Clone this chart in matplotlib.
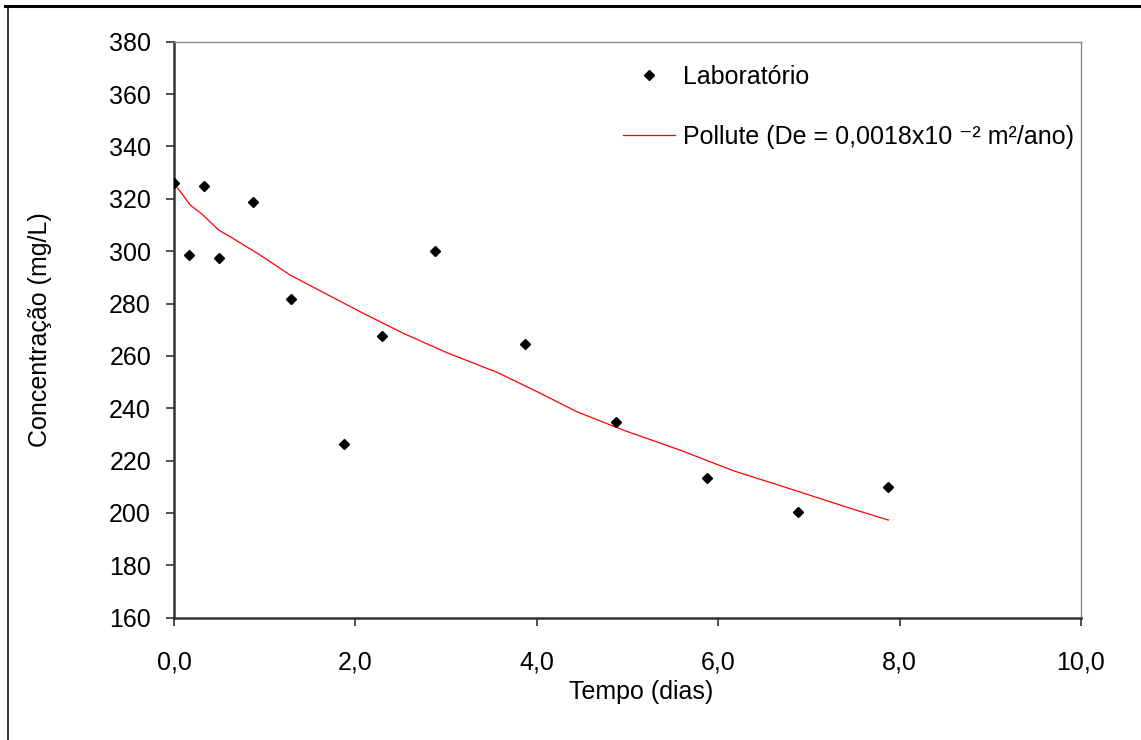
"""Concentração x tempo — ensaio de laboratório vs. ajuste Pollute."""
import matplotlib
matplotlib.use("Agg")
import matplotlib.pyplot as plt
from matplotlib.lines import Line2D
from matplotlib.ticker import FuncFormatter, MultipleLocator

# pontos de laboratório (dias, mg/L)
lab_t = [0.0, 0.17, 0.33, 0.50, 0.875, 1.29, 1.875, 2.29, 2.875, 3.875, 4.875, 5.875, 6.875, 7.875]
lab_c = [326.1, 298.5, 324.8, 297.3, 318.9, 281.7, 226.4, 267.5, 299.9, 264.5, 234.7, 213.2, 200.5, 209.8]

# curva Pollute
pol_t = [0.0, 0.18, 0.32, 0.49, 0.62, 0.95, 1.28, 1.68, 2.09, 2.53, 3.01, 3.57, 4.01,
         4.44, 4.95, 5.58, 6.17, 6.83, 7.49, 7.875]
pol_c = [326.0, 317.6, 313.8, 308.1, 305.5, 298.5, 290.9, 283.6, 276.2, 268.6, 261.2, 253.6, 246.2,
         238.7, 231.7, 224.0, 216.1, 208.8, 201.4, 197.3]

lab_label = "Laboratório"
pol_label = "Pollute (De = 0,0018x10 \u207b\u00b2 m\u00b2/ano)"

plt.rcParams["font.family"] = ["Liberation Sans", "DejaVu Sans"]
FS = 18

fig = plt.figure(figsize=(11.41, 7.40), dpi=100)
ax = fig.add_axes([174 / 1141, 1 - 617.7 / 740, 907 / 1141, 576 / 740])

ax.plot(pol_t, pol_c, color="red", lw=0.9, label=pol_label, zorder=2)
ax.plot(lab_t, lab_c, ls="none", marker="D", ms=4.6, color="black", label=lab_label, zorder=3)

ax.set_xlim(0, 10)
ax.set_ylim(160, 380)
ax.xaxis.set_major_locator(MultipleLocator(2))
ax.yaxis.set_major_locator(MultipleLocator(20))
ax.xaxis.set_major_formatter(FuncFormatter(lambda v, p: f"{v:.1f}".replace(".", ",")))
ax.yaxis.set_major_formatter(FuncFormatter(lambda v, p: f"{v:.0f}"))

for s in ("left", "bottom"):
    ax.spines[s].set_color("#333333")
    ax.spines[s].set_linewidth(1.8)
for s in ("top", "right"):
    ax.spines[s].set_color("#888888")
    ax.spines[s].set_linewidth(1.0)

ax.tick_params(axis="both", direction="out", length=5.5, width=1.2, color="#333333",
               labelsize=FS, labelcolor="black")
ax.tick_params(axis="x", pad=18)
ax.tick_params(axis="y", pad=11)

ax.set_xlabel("Tempo (dias)", fontsize=FS)
ax.set_ylabel("Concentração (mg/L)", fontsize=FS)
ax.xaxis.set_label_coords((641 - 174) / 907, -0.108)
ax.yaxis.set_label_coords((52 - 174) / 907, 0.5)

h, l = ax.get_legend_handles_labels()
ax.legend(h[::-1], l[::-1], loc="upper left", bbox_to_anchor=(0.495, 0.96),
          frameon=False, fontsize=FS, borderpad=0, borderaxespad=0,
          handlelength=2.1, handletextpad=0.3, labelspacing=1.45)

# moldura externa (só topo e esquerda visíveis)
fig.add_artist(Line2D([5 / 1141, 1], [1 - 6 / 740] * 2, transform=fig.transFigure,
                      color="black", lw=2.2))
fig.add_artist(Line2D([7.5 / 1141] * 2, [0, 1 - 8 / 740], transform=fig.transFigure,
                      color="black", lw=1.1))

fig.savefig("out.png", dpi=100)
